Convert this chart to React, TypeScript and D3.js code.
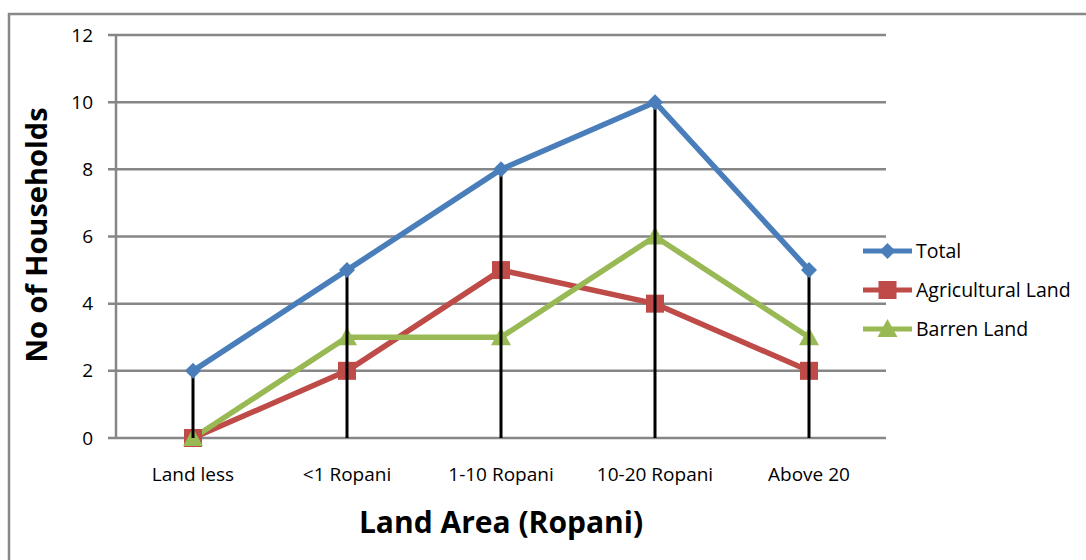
import React from "react";
import * as d3 from "d3";

const categories = ["Land less", "<1 Ropani", "1-10 Ropani", "10-20 Ropani", "Above 20"];
const totalValues = [2, 5, 8, 10, 5];
const agriValues = [0, 2, 5, 4, 2];
const barrenValues = [0, 3, 3, 6, 3];
const yTicks = [0, 2, 4, 6, 8, 10, 12];
const seriesNames = ["Total", "Agricultural Land", "Barren Land"];

const W = 1086, H = 560;
const FONT = "'Open Sans', sans-serif";

export default function App() {
  const x = d3.scaleBand<string>().domain(categories).range([116, 886]);
  const y = d3.scaleLinear().domain([0, 12]).range([438, 35]);
  const cx = (c: string) => (x(c) as number) + x.bandwidth() / 2;

  const series = [
    { name: seriesNames[0], values: totalValues, color: "#4A7EBB", marker: "diamond" },
    { name: seriesNames[1], values: agriValues, color: "#BE4B48", marker: "square" },
    { name: seriesNames[2], values: barrenValues, color: "#98B954", marker: "triangle" },
  ];
  const line = d3.line<number>().x((_, i) => cx(categories[i])).y((v) => y(v));

  const marker = (type: string, px: number, py: number, color: string, key: string) => {
    if (type === "diamond") {
      const s = 8;
      return <path key={key} d={`M${px},${py - s}L${px + s},${py}L${px},${py + s}L${px - s},${py}Z`} fill={color} />;
    }
    if (type === "square") {
      const s = 9;
      return <rect key={key} x={px - s} y={py - s} width={2 * s} height={2 * s} fill={color} />;
    }
    const s = 10;
    return <path key={key} d={`M${px},${py - s}L${px + s},${py + s * 0.8}L${px - s},${py + s * 0.8}Z`} fill={color} />;
  };

  const legendY = [251, 290, 329];

  return (
    <svg width={W} height={H} style={{ position: "absolute", left: 0, top: 0 }} fontFamily={FONT}>
      <rect x={0} y={0} width={W} height={H} fill="#fff" />
      <rect x={9} y={14} width={1100} height={600} fill="none" stroke="#888" strokeWidth={2.5} />
      {yTicks.map((t) => (
        <g key={t}>
          <line x1={108} x2={886} y1={y(t)} y2={y(t)} stroke="#868686" strokeWidth={2.5} />
          <text x={93} y={y(t)} dy="0.35em" textAnchor="end" fontSize={19} fill="#000">{t}</text>
        </g>
      ))}
      <line x1={116} x2={116} y1={y(12)} y2={y(0)} stroke="#868686" strokeWidth={2.5} />
      {categories.map((c) => (
        <text key={c} x={cx(c)} y={481} textAnchor="middle" fontSize={19} fill="#000">{c}</text>
      ))}
      {series.map((s) => (
        <path key={s.name} d={line(s.values) as string} fill="none" stroke={s.color} strokeWidth={5.5} strokeLinejoin="round" />
      ))}
      {series.slice(1).map((s) => s.values.map((v, i) => marker(s.marker, cx(categories[i]), y(v), s.color, s.name + i)))}
      {totalValues.map((v, i) => (
        <line key={"d" + i} x1={cx(categories[i])} x2={cx(categories[i])} y1={y(v)} y2={y(0)} stroke="#000" strokeWidth={3} />
      ))}
      {totalValues.map((v, i) => marker("diamond", cx(categories[i]), y(v), series[0].color, "t" + i))}
      {series.map((s, i) => (
        <g key={"l" + s.name}>
          <line x1={863} x2={912} y1={legendY[i]} y2={legendY[i]} stroke={s.color} strokeWidth={5} />
          {marker(s.marker, 887.5, legendY[i], s.color, "lm" + i)}
          <text x={916} y={legendY[i]} dy="0.35em" fontSize={19.5} fill="#000">{s.name}</text>
        </g>
      ))}
      <text x={501} y={522} dy="0.35em" textAnchor="middle" fontSize={30} fontWeight="bold" fill="#000">Land Area (Ropani)</text>
      <text transform="translate(37,235) rotate(-90)" dy="0.35em" textAnchor="middle" fontSize={29} fontWeight="bold" fill="#000">No of Households</text>
    </svg>
  );
}
